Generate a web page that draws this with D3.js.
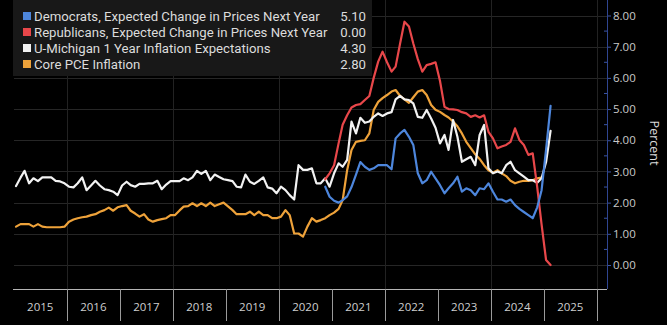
<!DOCTYPE html>
<html>
<head>
<meta charset="utf-8">
<script src="https://cdn.jsdelivr.net/npm/d3@7"></script>
<style>
  html, body { margin: 0; padding: 0; background: #000; }
  svg { display: block; }
  text { font-family: "Open Sans", "Noto Sans", sans-serif; }
  .legend text { font-family: Roboto, "Open Sans", sans-serif; }
</style>
</head>
<body>
<svg id="chart" width="667" height="325"></svg>
<script>
// Monthly series (values in percent), each starting at the given month
const umichStart = "2015-01";
const umichValues = [
  2.53, 2.8, 3.02, 2.62, 2.78, 2.69, 2.81, 2.81, 2.81, 2.7, 2.68, 2.62,
  2.51, 2.49, 2.62, 2.81, 2.4, 2.55, 2.7, 2.55, 2.43, 2.4, 2.35, 2.24,
  2.55, 2.67, 2.56, 2.51, 2.6, 2.6, 2.62, 2.62, 2.7, 2.43, 2.58, 2.69,
  2.69, 2.69, 2.78, 2.72, 2.81, 3.02, 2.92, 3.02, 2.72, 2.9, 2.82, 2.75,
  2.72, 2.69, 2.51, 2.49, 2.9, 2.67, 2.6, 2.7, 2.81, 2.49, 2.45, 2.3,
  2.51, 2.4, 2.24, 2.1, 3.2, 3.05, 3.05, 3.1, 2.62, 2.62, 2.78, 2.51,
  2.94, 3.26, 3.15, 3.37, 4.6, 4.22, 4.72, 4.56, 4.6, 4.75, 4.86, 4.78,
  4.86, 4.9, 5.31, 5.42, 5.31, 5.29, 5.18, 4.75, 4.72, 4.97, 4.7, 4.4,
  3.9, 4.17, 3.69, 4.65, 4.11, 3.31, 3.39, 3.47, 3.2, 4.17, 4.49, 3.1,
  2.94, 3.0, 2.94, 3.2, 3.31, 3.04, 2.94, 2.83, 2.72, 2.72, 2.64, 2.78,
  3.3, 4.3
];

const pceStart = "2015-01";
const pceValues = [
  1.23, 1.31, 1.31, 1.31, 1.23, 1.31, 1.23, 1.21, 1.21, 1.21, 1.21, 1.23,
  1.39, 1.46, 1.5, 1.53, 1.55, 1.6, 1.63, 1.71, 1.76, 1.84, 1.74, 1.85,
  1.89, 1.92, 1.74, 1.65, 1.55, 1.63, 1.46, 1.39, 1.44, 1.47, 1.5, 1.6,
  1.6, 1.75, 1.87, 1.89, 1.98, 1.89, 1.98, 1.89, 2.0, 1.89, 1.95, 2.0,
  1.88, 1.76, 1.63, 1.63, 1.63, 1.71, 1.6, 1.71, 1.6, 1.6, 1.5, 1.5,
  1.55, 1.76, 1.6, 1.01, 1.01, 0.91, 1.23, 1.5, 1.39, 1.44, 1.5, 1.6,
  1.68, 1.8, 2.08, 3.04, 3.69, 3.95, 3.98, 4.0, 4.22, 4.97, 5.23, 5.35,
  5.45, 5.56, 5.61, 5.42, 5.31, 5.2, 5.38, 5.56, 5.61, 5.45, 5.13, 4.98,
  4.91, 4.81, 4.73, 4.6, 4.45, 4.22, 3.95, 3.75, 3.55, 3.4, 3.2, 3.04,
  2.96, 3.04, 2.94, 2.85, 2.7, 2.62, 2.67, 2.7, 2.7, 2.72, 2.78, 2.8
];

const demStart = "2020-11";
const demValues = [
  2.51, 2.19, 2.06, 2.0, 2.08, 2.2, 2.5, 2.9, 3.3, 3.15, 3.05, 3.1,
  3.2, 3.2, 3.2, 3.07, 4.06, 4.22, 4.33, 4.11, 3.85, 2.94, 2.62, 2.72,
  2.99, 2.78, 2.56, 2.3, 2.46, 2.62, 2.83, 2.35, 2.46, 2.4, 2.24, 2.46,
  2.43, 2.62, 2.35, 2.1, 2.1, 2.03, 2.1, 1.92, 1.8, 1.7, 1.6, 1.5,
  1.85, 2.4, 3.7, 5.1
];

const repStart = "2020-11";
const repValues = [
  2.75, 2.94, 3.2, 3.9, 4.5, 4.8, 5.05, 5.13, 5.16, 5.29, 5.42, 6.0,
  6.52, 6.84, 6.5, 6.2, 6.36, 7.1, 7.8, 7.65, 7.1, 6.6, 6.2, 6.41,
  6.45, 6.5, 5.9, 5.07, 5.0, 4.99, 4.97, 4.9, 4.86, 4.75, 4.8, 4.73,
  4.8, 4.27, 4.06, 3.74, 3.8, 3.85, 3.95, 4.38, 4.01, 3.85, 3.53, 3.58,
  2.5, 1.3, 0.16, 0.0
];

const seriesNames = [
  "Democrats, Expected Change in Prices Next Year",
  "Republicans, Expected Change in Prices Next Year",
  "U-Michigan 1 Year Inflation Expectations",
  "Core PCE Inflation"
];
const seriesColors = ["#4d86dc", "#e8474a", "#f2f2f2", "#eea23a"];
const yTickValues = [0, 1, 2, 3, 4, 5, 6, 7, 8];
const yearLabels = ["2015", "2016", "2017", "2018", "2019", "2020", "2021", "2022", "2023", "2024", "2025"];

// Turn a start month + values into dated points (plotted mid-month)
function toPoints(start, values) {
  const [y0, m0] = start.split("-").map(Number);
  return values.map((v, i) => ({ date: new Date(y0, m0 - 1 + i, 15), value: v }));
}

const series = [
  { name: seriesNames[0], color: seriesColors[0], points: toPoints(demStart, demValues) },
  { name: seriesNames[1], color: seriesColors[1], points: toPoints(repStart, repValues) },
  { name: seriesNames[2], color: seriesColors[2], points: toPoints(umichStart, umichValues) },
  { name: seriesNames[3], color: seriesColors[3], points: toPoints(pceStart, pceValues) }
];

const svg = d3.select("#chart");
const W = 667, H = 325;
const plotLeft = 13, plotRight = 607, plotTop = 0, plotBottom = 289;

const x = d3.scaleTime()
  .domain([new Date(2015, 0, 1), new Date(2026, 0, 1)])
  .range([14, 597]);
const y = d3.scaleLinear().domain([0, 8]).range([265, 15.5]);

svg.append("rect").attr("width", W).attr("height", H).attr("fill", "#000");

// Grid
const grid = svg.append("g").attr("class", "grid");
grid.selectAll("line.h").data(yTickValues).join("line")
  .attr("class", "h")
  .attr("x1", 14).attr("x2", plotRight)
  .attr("y1", d => Math.round(y(d)) + 0.5).attr("y2", d => Math.round(y(d)) + 0.5)
  .attr("stroke", "#262626").attr("stroke-width", 1);
const gridYears = d3.range(2016, 2027, 2).map(yr => new Date(yr, 0, 1));
grid.selectAll("line.v").data(gridYears).join("line")
  .attr("class", "v")
  .attr("x1", d => Math.round(x(d)) + 0.5).attr("x2", d => Math.round(x(d)) + 0.5)
  .attr("y1", plotTop).attr("y2", plotBottom)
  .attr("stroke", "#222").attr("stroke-width", 1);

// Lines (drawn back to front)
const line = d3.line().x(d => x(d.date)).y(d => y(d.value));
const drawOrder = [3, 2, 1, 0];
svg.append("g").selectAll("path").data(drawOrder.map(i => series[i])).join("path")
  .attr("d", d => line(d.points))
  .attr("fill", "none")
  .attr("stroke", d => d.color)
  .attr("stroke-width", 2.2)
  .attr("stroke-linejoin", "round")
  .attr("stroke-linecap", "round");

// Legend
const legend = svg.append("g").attr("class", "legend");
legend.append("rect").attr("x", 13).attr("y", 0).attr("width", 359).attr("height", 76).attr("fill", "#181818");
const rows = legend.selectAll("g.row").data(series).join("g")
  .attr("class", "row")
  .attr("transform", (d, i) => `translate(0, ${16 + i * 16})`);
rows.append("rect").attr("x", 23).attr("y", -4).attr("width", 8).attr("height", 8).attr("fill", d => d.color);
rows.append("text").attr("x", 34).attr("y", 0).attr("dy", "0.35em")
  .attr("font-size", 13.2).attr("fill", "#dcdcdc")
  .text(d => d.name);
rows.append("text").attr("x", 366).attr("y", 0).attr("dy", "0.35em")
  .attr("text-anchor", "end")
  .attr("font-size", 13.2).attr("fill", "#dcdcdc")
  .text(d => d3.format(".2f")(d.points[d.points.length - 1].value));

// Right value axis
const yAxisG = svg.append("g").attr("transform", `translate(${plotRight},0)`);
yAxisG.call(d3.axisRight(y).tickValues(yTickValues).tickFormat(d3.format(".2f")).tickSize(4).tickPadding(2));
yAxisG.select(".domain").remove();
yAxisG.selectAll(".tick line").attr("stroke", "#3a55a8");
yAxisG.selectAll(".tick text").attr("fill", "#c9c9c9").attr("font-size", 11.5)
  .attr("font-family", "'Open Sans', sans-serif");
yAxisG.append("g").selectAll("line").data(d3.range(0.5, 8, 1)).join("line")
  .attr("x1", -3).attr("x2", 0)
  .attr("y1", d => y(d)).attr("y2", d => y(d))
  .attr("stroke", "#3a55a8");
yAxisG.append("line").attr("x1", 0.5).attr("x2", 0.5).attr("y1", 0).attr("y2", plotBottom)
  .attr("stroke", "#2f4590").attr("stroke-width", 1);

svg.append("text")
  .attr("transform", `translate(650,143) rotate(90)`)
  .attr("text-anchor", "middle")
  .attr("font-size", 12.5).attr("fill", "#dcdcdc")
  .text("Percent");

// Bottom time axis: baseline, year separators, centred year labels
const xAxisG = svg.append("g");
xAxisG.append("line").attr("x1", plotLeft).attr("x2", plotRight)
  .attr("y1", plotBottom + 0.5).attr("y2", plotBottom + 0.5)
  .attr("stroke", "#b5b5b5").attr("stroke-width", 1);
const sepYears = d3.range(2016, 2027).map(yr => new Date(yr, 0, 1));
xAxisG.selectAll("line.sep").data(sepYears).join("line")
  .attr("class", "sep")
  .attr("x1", d => Math.round(x(d)) + 0.5).attr("x2", d => Math.round(x(d)) + 0.5)
  .attr("y1", plotBottom).attr("y2", 321)
  .attr("stroke", "#9a9a9a").attr("stroke-width", 1);
xAxisG.selectAll("text").data(yearLabels).join("text")
  .attr("x", d => x(new Date(+d, 6, 1)))
  .attr("y", 311)
  .attr("text-anchor", "middle")
  .attr("font-size", 11.5).attr("fill", "#cfcfcf")
  .text(d => d);
</script>
</body>
</html>
